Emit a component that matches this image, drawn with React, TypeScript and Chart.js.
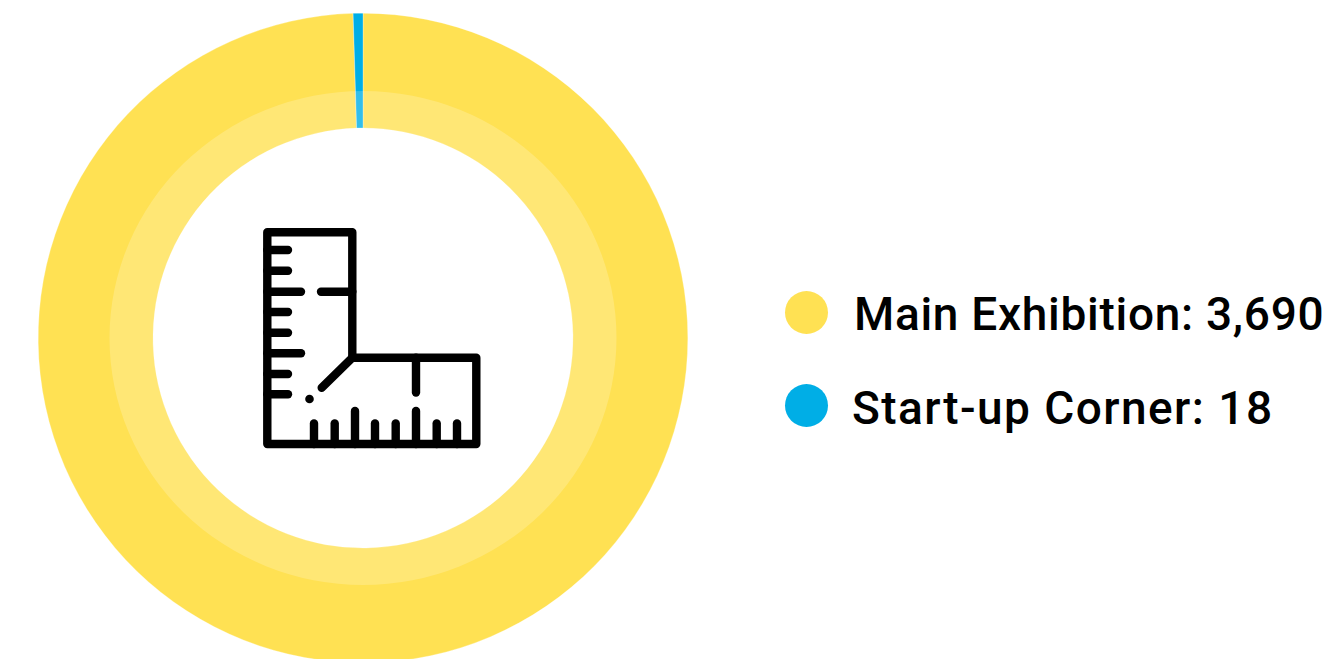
import React, { useEffect, useRef } from "react";
import { Chart, registerables } from "chart.js";

Chart.register(...registerables);

const categories = ["Main Exhibition", "Start-up Corner"];
const values = [3690, 18];
const colors = ["#FFE153", "#00AEE6"];

const leftTicks: [number, number][] = [
  [250, 288], [270.7, 288], [291.7, 301], [312, 288], [332.7, 288], [353.3, 301], [374, 288], [394.3, 288],
];
const bottomTicks: [number, number][] = [
  [314, 423.5], [334.7, 423.5], [355, 411], [375, 423.5], [395.7, 423.5], [416, 411], [436.7, 423.5], [457, 423.5],
];

// Pale translucent band laid over the inner part of the ring (slightly elliptical in the reference).
const bandPlugin = {
  id: "band",
  afterDatasetsDraw(chart: any) {
    const arc = chart.getDatasetMeta(0).data[0];
    if (!arc) return;
    const { x, y, innerRadius } = arc.getProps(["x", "y", "innerRadius"], true);
    const ctx = chart.ctx;
    ctx.save();
    ctx.fillStyle = "rgba(255,255,255,0.2)";
    ctx.beginPath();
    ctx.ellipse(x, y, 253.5, 247, 0, 0, Math.PI * 2);
    ctx.moveTo(x + innerRadius, y);
    ctx.arc(x, y, innerRadius, 0, Math.PI * 2);
    ctx.fill("evenodd");
    ctx.restore();
  },
};

function RulerIcon() {
  return (
    <svg
      width={726}
      height={659}
      style={{ position: "absolute", left: 0, top: 0, pointerEvents: "none" }}
      fill="none"
      stroke="#000"
      strokeWidth={8.4}
      strokeLinecap="round"
      strokeLinejoin="round"
    >
      <path d="M267.3 232.3 H352.3 V357.7 H476.3 V444 H267.3 Z" />
      {leftTicks.map(([y, x], i) => (
        <line key={"l" + i} x1={267.3} y1={y} x2={x} y2={y} />
      ))}
      {bottomTicks.map(([x, y], i) => (
        <line key={"b" + i} x1={x} y1={444} x2={x} y2={y} />
      ))}
      <line x1={321} y1={291.7} x2={352.3} y2={291.7} />
      <line x1={416} y1={357.7} x2={416} y2={392.5} />
      <line x1={352.3} y1={357.7} x2={321.7} y2={387.7} />
      <circle cx={309.5} cy={399} r={4.3} fill="#000" stroke="none" />
    </svg>
  );
}

export default function App() {
  const ref = useRef<HTMLCanvasElement>(null);

  useEffect(() => {
    const chart = new Chart(ref.current!, {
      type: "doughnut",
      data: {
        labels: categories,
        datasets: [{ data: values, backgroundColor: colors, borderColor: "#FFFFFF", borderWidth: 0.3 }],
      },
      options: {
        responsive: false,
        animation: false,
        cutout: 210,
        layout: { padding: { left: 38, right: 38, top: 13, bottom: 13 } },
        plugins: { legend: { display: false }, tooltip: { enabled: false } },
      },
      plugins: [bandPlugin],
    });
    return () => chart.destroy();
  }, []);

  return (
    <div style={{ position: "fixed", left: 0, top: 0, width: 1331, height: 659, overflow: "hidden", background: "#fff" }}>
      <canvas ref={ref} width={726} height={676} style={{ position: "absolute", left: 0, top: 0, width: 726, height: 676 }} />
      <RulerIcon />
      {categories.map((c, i) => (
        <div key={c}>
          <div
            style={{
              position: "absolute",
              left: 785,
              top: 291 + i * 93,
              width: 43,
              height: 43,
              borderRadius: "50%",
              background: colors[i],
            }}
          />
          <div
            style={{
              position: "absolute",
              left: i === 0 ? 854 : 852,
              top: 286 + i * 94,
              height: 56,
              lineHeight: "56px",
              fontFamily: "Roboto, sans-serif",
              fontWeight: 500,
              fontSize: 46,
              letterSpacing: i === 0 ? 0.7 : 1.45,
              color: "#000",
              whiteSpace: "nowrap",
            }}
          >
            {c}: {values[i].toLocaleString("en-US")}
          </div>
        </div>
      ))}
    </div>
  );
}
